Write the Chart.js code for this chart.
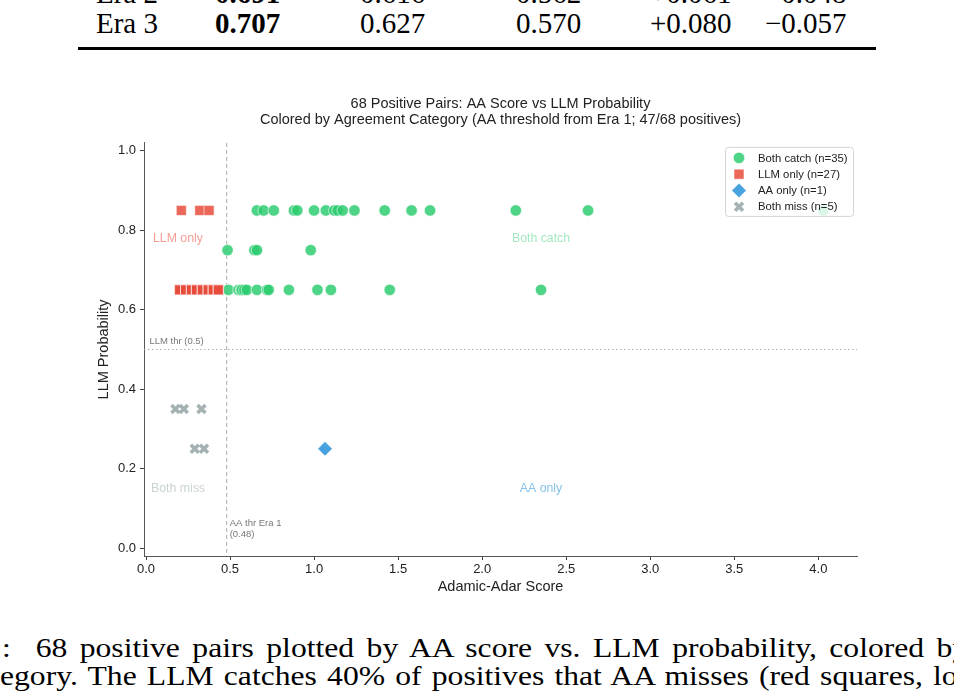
<!DOCTYPE html>
<html>
<head>
<meta charset="utf-8">
<script src="https://cdn.jsdelivr.net/npm/chart.js@4.4.0/dist/chart.umd.min.js"></script>
<style>
body { margin: 0; width: 954px; height: 694px; overflow: hidden; background: #fff; position: relative; font-family: "Liberation Serif", serif; }
.t { position: absolute; font-size: 29px; line-height: 1; white-space: nowrap; color: #000; }
.b { font-weight: bold; }
.rule { position: absolute; left: 78px; top: 47px; width: 798px; height: 2.5px; background: #000; }
.cap { position: absolute; font-size: 28px; line-height: 1; white-space: nowrap; color: #000; transform-origin: left top; transform: scaleX(1.13); }
#wrap { position: absolute; left: 46px; top: 80px; width: 908px; height: 530px; }
</style>
</head>
<body>

<div class="t" style="left:96px;top:-21px">Era 2</div>
<div class="t b" style="left:215px;top:-21px">0.691</div>
<div class="t" style="left:360px;top:-21px">0.616</div>
<div class="t" style="left:516px;top:-21px">0.562</div>
<div class="t" style="left:650px;top:-21px">+0.061</div>
<div class="t" style="left:765px;top:-21px">&minus;0.048</div>

<div class="t" style="left:96px;top:9px">Era 3</div>
<div class="t b" style="left:215px;top:9px">0.707</div>
<div class="t" style="left:360px;top:9px">0.627</div>
<div class="t" style="left:516px;top:9px">0.570</div>
<div class="t" style="left:650px;top:9px">+0.080</div>
<div class="t" style="left:765px;top:9px">&minus;0.057</div>
<div class="rule"></div>

<div id="wrap"><canvas id="content" width="908" height="530"></canvas></div>

<div class="cap" id="cap1" style="left:2px;top:634px;word-spacing:4px">:&nbsp; 68 positive pairs plotted by AA score vs. LLM probability, colored by</div>
<div class="cap" id="cap2" style="left:0px;top:662px;word-spacing:2px">egory. The LLM catches 40% of positives that AA misses (red squares, lower</div>

<script>
// categories in legend order
var categories = ["Both catch (n=35)", "LLM only (n=27)", "AA only (n=1)", "Both miss (n=5)"];

var bothCatchX = [0.66, 0.70, 0.76, 0.88, 0.90, 1.00, 1.07, 1.12, 1.14, 1.17, 1.24, 1.42, 1.58, 1.69, 2.20, 2.63, 4.03,
                  0.485, 0.645, 0.66, 0.98,
                  0.49, 0.55, 0.565, 0.57, 0.585, 0.60, 0.66, 0.72, 0.73, 0.85, 1.02, 1.10, 1.45, 2.35];
var bothCatchY = [0.85, 0.85, 0.85, 0.85, 0.85, 0.85, 0.85, 0.85, 0.85, 0.85, 0.85, 0.85, 0.85, 0.85, 0.85, 0.85, 0.85,
                  0.75, 0.75, 0.75, 0.75,
                  0.65, 0.65, 0.65, 0.65, 0.65, 0.65, 0.65, 0.65, 0.65, 0.65, 0.65, 0.65, 0.65, 0.65];

var llmOnlyX = [0.21, 0.32, 0.375,
                0.20, 0.20, 0.20, 0.235, 0.235, 0.235, 0.27, 0.27, 0.27, 0.30, 0.30, 0.30,
                0.335, 0.335, 0.335, 0.37, 0.37, 0.37, 0.40, 0.40, 0.40, 0.43, 0.43, 0.43];
var llmOnlyY = [0.85, 0.85, 0.85,
                0.65, 0.65, 0.65, 0.65, 0.65, 0.65, 0.65, 0.65, 0.65, 0.65, 0.65, 0.65,
                0.65, 0.65, 0.65, 0.65, 0.65, 0.65, 0.65, 0.65, 0.65, 0.65, 0.65, 0.65];

var aaOnlyX = [1.065];
var aaOnlyY = [0.25];

var bothMissX = [0.175, 0.225, 0.33, 0.29, 0.345];
var bothMissY = [0.35, 0.35, 0.35, 0.25, 0.25];

var xTicks = [0.0, 0.5, 1.0, 1.5, 2.0, 2.5, 3.0, 3.5, 4.0];
var yTicks = [0.0, 0.2, 0.4, 0.6, 0.8, 1.0];

var aaThreshold = 0.48;
var llmThreshold = 0.5;

var SANS = '"Liberation Sans", Arial, sans-serif';

function pts(xs, ys) {
    return xs.map(function (x, i) { return {x: x, y: ys[i]}; });
}

var overlay = {
    id: 'overlay',
    beforeDatasetsDraw: function (chart) {
        var ctx = chart.ctx, a = chart.chartArea;
        var sx = chart.scales.x, sy = chart.scales.y;
        ctx.save();
        // threshold lines
        var tx = sx.getPixelForValue(aaThreshold);
        ctx.strokeStyle = '#aaaaaa';
        ctx.lineWidth = 1;
        ctx.setLineDash([4, 3]);
        ctx.beginPath(); ctx.moveTo(tx, a.top); ctx.lineTo(tx, a.bottom); ctx.stroke();
        var ty = sy.getPixelForValue(llmThreshold);
        ctx.setLineDash([1.5, 2.5]);
        ctx.beginPath(); ctx.moveTo(a.left, ty); ctx.lineTo(a.right, ty); ctx.stroke();
        ctx.setLineDash([]);

        ctx.font = '9.5px ' + SANS;
        ctx.fillStyle = '#777777';
        ctx.textAlign = 'left';
        ctx.textBaseline = 'bottom';
        ctx.fillText('LLM thr (0.5)', sx.getPixelForValue(0.02), ty - 3);
        ctx.textBaseline = 'middle';
        ctx.fillText('AA thr Era 1', tx + 3, sy.getPixelForValue(0.062));
        ctx.fillText('(0.48)', tx + 3, sy.getPixelForValue(0.062) + 11);

        // quadrant labels
        ctx.font = '12.3px ' + SANS;
        ctx.textAlign = 'center';
        var q = [
            ['LLM only', 0.19, 0.78, 'rgba(231,76,60,0.55)'],
            ['Both catch', 2.35, 0.78, 'rgba(46,204,113,0.45)'],
            ['Both miss', 0.19, 0.15, 'rgba(149,165,166,0.5)'],
            ['AA only', 2.35, 0.15, 'rgba(52,152,219,0.6)']
        ];
        q.forEach(function (l) {
            ctx.fillStyle = l[3];
            ctx.fillText(l[0], sx.getPixelForValue(l[1]), sy.getPixelForValue(l[2]));
        });
        ctx.restore();
    },
    afterDatasetsDraw: function (chart) {
        var ctx = chart.ctx, a = chart.chartArea;
        var w = 128, h = 69;
        var x0 = a.right - 4 - w, y0 = a.top + 4;
        ctx.save();
        ctx.fillStyle = 'rgba(255,255,255,0.8)';
        ctx.strokeStyle = '#d5d5d5';
        ctx.lineWidth = 1;
        ctx.beginPath();
        ctx.roundRect(x0 + 0.5, y0 + 0.5, w, h, 3);
        ctx.fill(); ctx.stroke();
        ctx.font = '11.3px ' + SANS;
        ctx.textAlign = 'left';
        ctx.textBaseline = 'middle';
        chart.data.datasets.forEach(function (ds, i) {
            var my = y0 + 11 + i * 16.3;
            var mx = x0 + 14;
            ctx.fillStyle = ds.backgroundColor;
            ctx.strokeStyle = ds.borderColor;
            ctx.lineWidth = ds.borderWidth;
            Chart.helpers.drawPoint(ctx, {pointStyle: ds.pointStyle, radius: ds.pointRadius, borderWidth: ds.borderWidth, rotation: 0}, mx, my);
            ctx.fillStyle = '#222222';
            ctx.fillText(categories[i], x0 + 33, my + 0.5);
        });
        ctx.restore();
    }
};

var ctx = document.getElementById("content").getContext("2d");
new Chart(ctx, {
    type: 'scatter',
    data: {
        datasets: [{
            label: categories[0],
            data: pts(bothCatchX, bothCatchY),
            pointStyle: 'circle',
            pointRadius: 5.7,
            backgroundColor: 'rgba(46,204,113,0.85)',
            borderColor: '#ffffff',
            borderWidth: 0.6,
            order: 4
        }, {
            label: categories[1],
            data: pts(llmOnlyX, llmOnlyY),
            pointStyle: 'rect',
            pointRadius: 7.1,
            backgroundColor: 'rgba(231,76,60,0.85)',
            borderColor: '#ffffff',
            borderWidth: 0.6,
            order: 3
        }, {
            label: categories[2],
            data: pts(aaOnlyX, aaOnlyY),
            pointStyle: 'rectRot',
            pointRadius: 7.3,
            backgroundColor: 'rgba(52,152,219,0.9)',
            borderColor: '#ffffff',
            borderWidth: 0.6,
            order: 2
        }, {
            label: categories[3],
            data: pts(bothMissX, bothMissY),
            pointStyle: 'crossRot',
            pointRadius: 5.6,
            backgroundColor: 'rgba(149,165,166,0.85)',
            borderColor: 'rgba(149,165,166,0.85)',
            borderWidth: 3.6,
            order: 1
        }]
    },
    options: {
        responsive: false,
        animation: false,
        events: [],
        layout: {padding: {left: 0, right: 97, top: 0, bottom: 0}},
        plugins: {
            legend: {display: false},
            tooltip: {enabled: false},
            title: {
                display: true,
                fullSize: false,
                text: ['68 Positive Pairs: AA Score vs LLM Probability',
                       'Colored by Agreement Category (AA threshold from Era 1; 47/68 positives)'],
                color: '#222222',
                font: {family: SANS, size: 14.5, weight: 'normal', lineHeight: 1.1},
                padding: {top: 16, bottom: 15}
            }
        },
        scales: {
            x: {
                type: 'linear',
                min: -0.012,
                max: 4.23,
                afterBuildTicks: function (s) { s.ticks = xTicks.map(function (v) { return {value: v}; }); },
                afterFit: function (s) { s.height = 54; },
                grid: {display: true, drawOnChartArea: false, drawTicks: true, tickLength: 4, color: '#444444'},
                border: {display: true, color: '#555555', width: 1},
                ticks: {
                    color: '#222222', padding: 2,
                    font: {family: SANS, size: 13},
                    callback: function (v) { return v.toFixed(1); }
                },
                title: {
                    display: true, text: 'Adamic-Adar Score', color: '#222222',
                    font: {family: SANS, size: 14.5, lineHeight: 1.2},
                    padding: {top: 0, bottom: 14.3}
                }
            },
            y: {
                type: 'linear',
                min: -0.02,
                max: 1.02,
                afterBuildTicks: function (s) { s.ticks = yTicks.map(function (v) { return {value: v}; }); },
                afterFit: function (s) { s.width = 98; },
                grid: {display: true, drawOnChartArea: false, drawTicks: true, tickLength: 4, color: '#444444'},
                border: {display: true, color: '#555555', width: 1},
                ticks: {
                    color: '#222222', padding: 4,
                    font: {family: SANS, size: 13},
                    callback: function (v) { return v.toFixed(1); }
                },
                title: {
                    display: true, text: 'LLM Probability', color: '#222222',
                    font: {family: SANS, size: 14.5, lineHeight: 1.2},
                    padding: {top: 49.3, bottom: 0}
                }
            }
        }
    },
    plugins: [overlay]
});
</script>
</body>
</html>
